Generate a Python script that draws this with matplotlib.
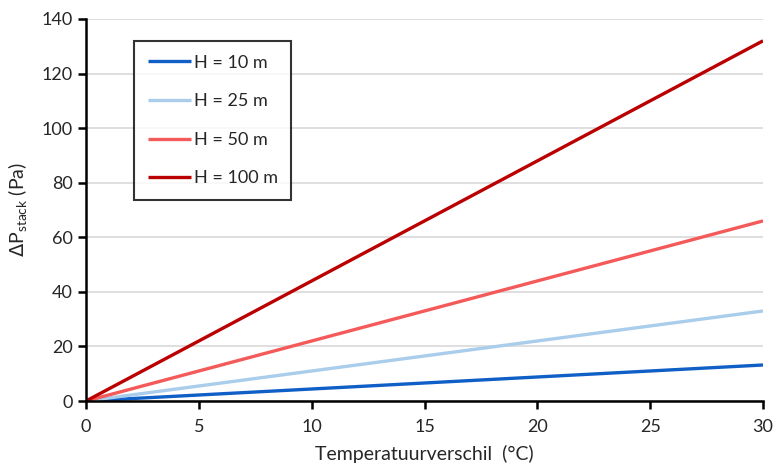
import matplotlib
matplotlib.use("Agg")
import matplotlib.pyplot as plt

# temperature difference (°C) and stack pressure (Pa) per building height
temp_diff = [0, 30]
labels = ["H = 10 m", "H = 25 m", "H = 50 m", "H = 100 m"]
dp_10 = [0, 13.2]
dp_25 = [0, 33.0]
dp_50 = [0, 66.0]
dp_100 = [0, 132.0]
series = [dp_10, dp_25, dp_50, dp_100]
colors = ["#0F5FC6", "#A9CDEA", "#F55A5A", "#BA0000"]

plt.rcParams['font.family'] = ['Lato', 'DejaVu Sans']

fig = plt.figure(figsize=(7.77, 4.70), dpi=100)
ax = fig.add_axes([0.1107, 0.1468, 0.8713, 0.8128])

for vals, lab, col in zip(series, labels, colors):
    ax.plot(temp_diff, vals, color=col, lw=2.4, label=lab, solid_capstyle='butt')

ax.set_xlim(0, 30)
ax.set_ylim(0, 140)
ax.set_xticks(range(0, 31, 5))
ax.set_yticks(range(0, 141, 20))
ax.yaxis.grid(True, color='#D9D9D9', lw=1.2)
ax.set_axisbelow(True)

for s in ['top', 'right']:
    ax.spines[s].set_visible(False)
for s in ['left', 'bottom']:
    ax.spines[s].set_linewidth(1.8)
    ax.spines[s].set_color('black')
ax.tick_params(axis='both', direction='out', length=6, width=1.8,
               labelsize=13, labelcolor='#262626')
ax.tick_params(axis='x', pad=7)

ax.set_xlabel("Temperatuurverschil  (°C)", fontsize=14, labelpad=7, color='#262626')
ax.set_ylabel(r"$\Delta$P$_{\mathregular{stack}}$ (Pa)", fontsize=14, labelpad=8,
              color='#262626')

leg = ax.legend(loc='upper left', bbox_to_anchor=(0.071, 0.942), fontsize=13,
                frameon=True, fancybox=False, edgecolor='black',
                handlelength=2.4, handletextpad=0.15, labelspacing=1.25,
                borderpad=0.75, borderaxespad=0)
leg.get_frame().set_linewidth(1.5)
for t in leg.get_texts():
    t.set_color('#262626')

fig.savefig("out.png", dpi=100)
